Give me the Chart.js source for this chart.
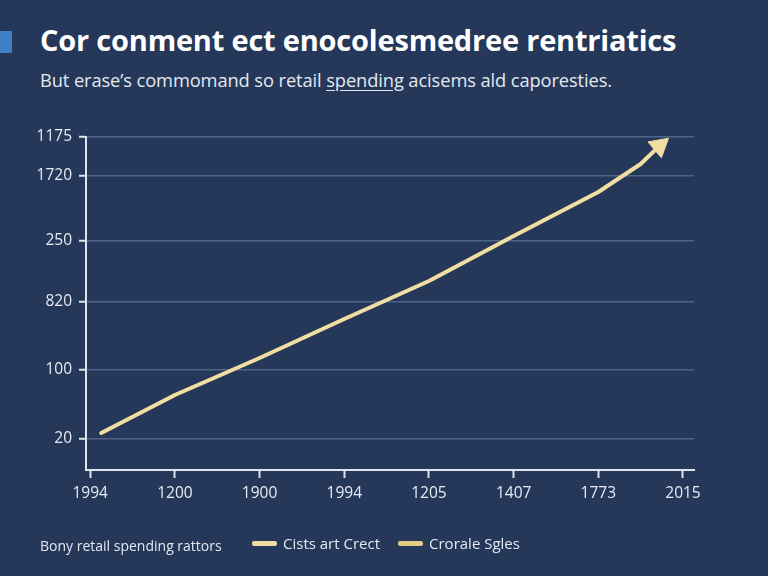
<!DOCTYPE html>
<html>
<head>
<meta charset="utf-8">
<script src="https://cdn.jsdelivr.net/npm/chart.js@4.4.1/dist/chart.umd.min.js"></script>
<style>
  html, body { margin: 0; padding: 0; }
  body { width: 768px; height: 576px; background: #25385a; position: relative; overflow: hidden; font-family: "Open Sans", sans-serif; }
  #wrap { position: absolute; left: 0; top: 0; width: 768px; height: 576px; }
  .mark { position: absolute; left: 0; top: 31px; width: 12px; height: 22px; background: #3f7fc3; }
  h1 { position: absolute; left: 40px; top: 20px; margin: 0; font-size: 29px; font-weight: 700; color: #ffffff; white-space: nowrap; letter-spacing: -0.2px; }
  .sub { position: absolute; left: 40px; top: 67px; margin: 0; font-size: 18.3px; color: #e4e9f0; white-space: nowrap; letter-spacing: -0.1px; }
  .sub u { text-underline-offset: 3px; }
  .note { position: absolute; left: 40px; top: 536px; font-size: 14px; color: #e4e9f0; white-space: nowrap; }
  #legend { position: absolute; left: 252px; top: 533px; display: flex; align-items: center; font-size: 15px; color: #e4e9f0; white-space: nowrap; }
  #legend span.item { display: flex; align-items: center; margin-right: 18px; }
  #legend span.sw { display: inline-block; width: 25px; height: 5px; border-radius: 2px; margin-right: 6px; }
</style>
</head>
<body>
<div class="mark"></div>
<h1>Cor conment ect enocolesmedree rentriatics</h1>
<p class="sub">But erase’s commomand so retail <u>spending</u> acisems ald caporesties.</p>
<div id="wrap"><canvas id="chart_retailSpending"></canvas></div>
<div class="note">Bony retail spending rattors</div>
<div id="legend"></div>
<script>
// tick labels as printed on the picture
const xTickLabels = ['1994', '1200', '1900', '1994', '1205', '1407', '1773', '2015'];
const yTickLabels = ['20', '100', '820', '250', '1720', '1175'];
// where each y label sits on the axis (axis units, 0 = x axis)
const yTickPositions = [31, 100, 168, 229, 294, 333];

// series (x in tick steps, y in axis units)
const spendX = [0.13, 1, 2, 3, 4, 5, 6, 6.5, 6.72];
const spendY = [37, 75, 112, 151, 189, 234, 278, 306, 324];

const seriesLabels = ['Cists art Crect', 'Crorale Sgles'];
const seriesColors = ['#f0dea2', '#e3cc85'];

const lastIdx = spendX.length - 1;

var chart_retailSpending = new Chart(document.getElementById('chart_retailSpending'), {
    type: 'line',
    data: {
        datasets: [
            {
                label: seriesLabels[0],
                data: spendX.map((x, i) => ({ x: x, y: spendY[i] })),
                borderColor: seriesColors[0],
                backgroundColor: seriesColors[0],
                borderWidth: 4,
                borderCapStyle: 'round',
                borderJoinStyle: 'round',
                tension: 0,
                pointStyle: 'triangle',
                pointRadius: spendX.map((x, i) => i === lastIdx ? 12 : 0),
                pointRotation: spendX.map((x, i) => i === lastIdx ? 50 : 0),
                pointBackgroundColor: seriesColors[0],
                pointBorderColor: seriesColors[0],
                pointBorderWidth: 1,
                clip: false
            },
            {
                label: seriesLabels[1],
                data: [],
                borderColor: seriesColors[1],
                backgroundColor: seriesColors[1],
                borderWidth: 4
            }
        ]
    },
    options: {
        animation: false,
        responsive: true,
        maintainAspectRatio: false,
        layout: {
            padding: { top: 137, left: 0, right: 74, bottom: 66 }
        },
        plugins: {
            legend: { display: false },
            tooltip: { enabled: false }
        },
        scales: {
            x: {
                type: 'linear',
                min: -0.05,
                max: 7.13,
                afterBuildTicks: (scale) => {
                    scale.ticks = xTickLabels.map((t, i) => ({ value: i }));
                },
                afterFit: (scale) => { scale.height = 40; },
                ticks: {
                    callback: (value, index) => xTickLabels[index],
                    color: '#e6ebf2',
                    font: { family: 'Open Sans', size: 15.5 },
                    padding: 6,
                    maxRotation: 0,
                    autoSkip: false
                },
                grid: {
                    drawOnChartArea: false,
                    tickColor: '#dfe5ee',
                    tickLength: 8,
                    tickWidth: 2
                },
                border: { color: '#dfe5ee', width: 2 }
            },
            y: {
                type: 'linear',
                min: 0,
                max: 333,
                afterBuildTicks: (scale) => {
                    scale.ticks = yTickPositions.map(v => ({ value: v }));
                },
                afterFit: (scale) => { scale.width = 86; },
                ticks: {
                    callback: (value, index) => yTickLabels[index],
                    color: '#e6ebf2',
                    font: { family: 'Open Sans', size: 15.5 },
                    padding: 7,
                    autoSkip: false
                },
                grid: {
                    color: 'rgba(150, 172, 205, 0.38)',
                    lineWidth: 1.5,
                    tickColor: '#dfe5ee',
                    tickLength: 7,
                    tickWidth: 2
                },
                border: { color: '#dfe5ee', width: 2 }
            }
        }
    }
});

// html legend built from the chart's own legend items
const legendBox = document.getElementById('legend');
chart_retailSpending.options.plugins.legend.labels.generateLabels(chart_retailSpending).forEach(item => {
    const el = document.createElement('span');
    el.className = 'item';
    const sw = document.createElement('span');
    sw.className = 'sw';
    sw.style.background = item.strokeStyle;
    el.appendChild(sw);
    el.appendChild(document.createTextNode(item.text));
    legendBox.appendChild(el);
});
</script>
</body>
</html>
